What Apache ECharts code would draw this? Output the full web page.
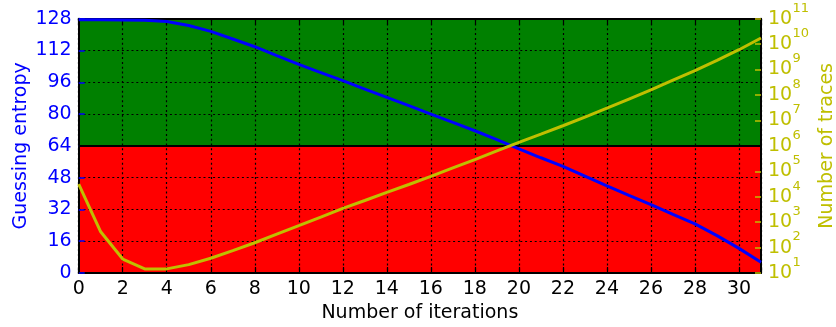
<!DOCTYPE html>
<html><head><meta charset="utf-8">
<script src="https://cdn.jsdelivr.net/npm/echarts@6/dist/echarts.min.js"></script>
<style>html,body{margin:0;padding:0;background:#fff}#c{width:836px;height:327px}</style>
</head><body><div id="c"></div>
<script>
const iterations = [0,1,2,3,4,5,6,7,8,9,10,11,12,13,14,15,16,17,18,19,20,21,22,23,24,25,26,27,28,29,30,31];
const guessingEntropy = [127.5,127.5,127.4,127.2,126.6,124.6,121.6,117.8,113.9,109.4,105.0,100.9,96.8,92.6,88.4,84.2,80.0,75.8,71.6,67.1,62.5,58.0,53.7,48.8,43.9,39.1,34.4,29.5,24.7,18.8,12.4,5.4];
const numberOfTraces = [3.16e4,417,35.5,14.5,14.5,21.4,38,76,155,339,724,1585,3467,7079,1.48e4,3.02e4,6.31e4,1.35e5,2.88e5,6.31e5,1.38e6,2.88e6,6.17e6,1.35e7,3.02e7,6.92e7,1.58e8,3.8e8,9.12e8,2.29e9,6.03e9,1.74e10];
const threshold = 64;
const xLabel = 'Number of iterations';
const leftLabel = 'Guessing entropy';
const rightLabel = 'Number of traces';
const logMin = 10, logMax = 1e11;

const FONT = 'DejaVu Sans';
const BLUE = '#0000ff', YEL = '#bfbf00', GREEN = '#008000', RED = '#ff0000';
const dotted = {color:'#000', width:1.2, type:[2,2.8]};

const chart = echarts.init(document.getElementById('c'), null, {renderer:'canvas'});
chart.setOption({
  animation:false,
  backgroundColor:'#fff',
  grid:{left:78.7, right:75, top:18.7, bottom:54, containLabel:false, outerBoundsMode:'none'},
  xAxis:[{
    type:'value', min:0, max:31, interval:2, position:'bottom',
    name:xLabel, nameLocation:'middle', nameGap:31, nameMoveOverlap:false,
    nameTextStyle:{fontFamily:FONT, fontSize:19, color:'#000'},
    axisLine:{show:true, onZero:false, lineStyle:{color:'#000', width:2}},
    axisTick:{show:true, inside:true, length:6, lineStyle:{color:'#000', width:1.2}},
    axisLabel:{fontFamily:FONT, fontSize:19, color:'#000', margin:7,
      formatter: v => (v <= 30 ? String(v) : '')},
    splitLine:{show:true, lineStyle:dotted}
  },{
    type:'value', min:0, max:31, interval:2, position:'top',
    axisLine:{show:true, onZero:false, lineStyle:{color:'#000', width:2}},
    axisTick:{show:true, inside:true, length:6, lineStyle:{color:'#000', width:1.2}},
    axisLabel:{show:false}, splitLine:{show:false}
  }],
  yAxis:[{
    type:'value', min:0, max:128, interval:16, position:'left',
    name:leftLabel, nameLocation:'middle', nameGap:48, nameRotate:90, nameMoveOverlap:false,
    nameTextStyle:{fontFamily:FONT, fontSize:19, color:BLUE},
    axisLine:{show:true, onZero:false, lineStyle:{color:'#000', width:2}},
    axisTick:{show:true, inside:true, length:6, lineStyle:{color:BLUE, width:1.5}},
    axisLabel:{fontFamily:FONT, fontSize:19, color:BLUE, margin:7, showMinLabel:true, showMaxLabel:true},
    splitLine:{show:true, lineStyle:dotted},
    splitArea:{show:true, areaStyle:{color:[RED,RED,RED,RED,GREEN,GREEN,GREEN,GREEN]}}
  },{
    type:'log', logBase:10, min:logMin, max:logMax, interval:1, position:'right',
    name:rightLabel, nameLocation:'middle', nameGap:57, nameRotate:90, nameMoveOverlap:false,
    nameTextStyle:{fontFamily:FONT, fontSize:19, color:YEL},
    axisLine:{show:true, onZero:false, lineStyle:{color:'#000', width:2}},
    axisTick:{show:true, inside:true, length:6, lineStyle:{color:YEL, width:1.5}},
    axisLabel:{margin:7, showMinLabel:true, showMaxLabel:true,
      fontFamily:FONT, fontSize:19, color:YEL, formatter: () => '10'},
    splitLine:{show:false}
  },{
    type:'log', logBase:10, min:logMin, max:logMax, interval:1, position:'right',
    axisLine:{show:false}, axisTick:{show:false}, splitLine:{show:false},
    axisLabel:{margin:31.5, showMinLabel:true, showMaxLabel:true,
      fontFamily:FONT, fontSize:13, lineHeight:21, verticalAlign:'bottom', color:YEL,
      formatter: v => String(Math.round(Math.log10(v)))}
  }],
  series:[{
    type:'line', xAxisIndex:0, yAxisIndex:0, showSymbol:false, symbol:'none', z:3,
    data: iterations.map((x,i)=>[x, guessingEntropy[i]]),
    lineStyle:{color:BLUE, width:3}, itemStyle:{color:BLUE},
    markLine:{silent:true, symbol:['none','none'], label:{show:false}, z:2,
      lineStyle:{color:'#000', type:'solid', width:2},
      data:[{yAxis:threshold}]}
  },{
    type:'line', xAxisIndex:0, yAxisIndex:1, showSymbol:false, symbol:'none', z:4,
    data: iterations.map((x,i)=>[x, numberOfTraces[i]]),
    lineStyle:{color:YEL, width:3}, itemStyle:{color:YEL}
  }]
});
</script></body></html>
